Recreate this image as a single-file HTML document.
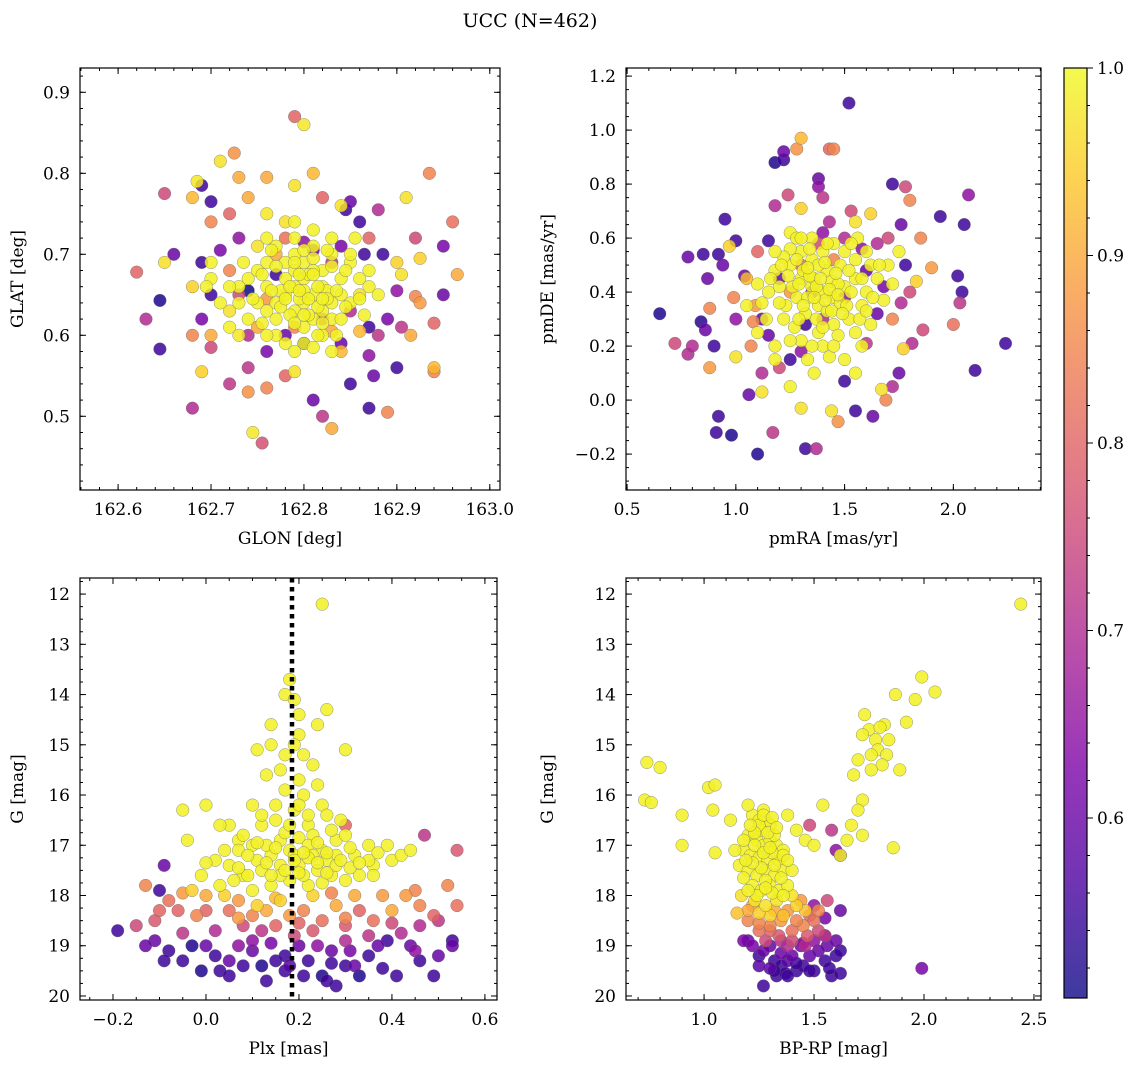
<!DOCTYPE html>
<html><head><meta charset="utf-8"><style>
html,body{margin:0;padding:0;background:#fff;}
svg{display:block;font-family:"DejaVu Serif","Liberation Serif",serif;}
</style></head><body>
<svg id="fig" width="1136" height="1067" viewBox="0 0 1136 1067">
<defs>
<linearGradient id="plasma" x1="0" y1="1" x2="0" y2="0">
<stop offset="0" stop-color="#0d0887"/><stop offset="0.125" stop-color="#4c02a1"/><stop offset="0.25" stop-color="#7e03a8"/><stop offset="0.375" stop-color="#a92395"/><stop offset="0.5" stop-color="#cc4778"/><stop offset="0.625" stop-color="#e56b5d"/><stop offset="0.75" stop-color="#f89540"/><stop offset="0.875" stop-color="#fdc527"/><stop offset="1" stop-color="#f0f921"/>
</linearGradient>
</defs>
<text x="530" y="27" text-anchor="middle" font-size="19">UCC (N=462)</text>
</svg>
<script>
// ---- data ----
const p1 = [[162.62,0.678,0.8],[162.645,0.643,0.52],[162.645,0.583,0.55],[162.65,0.775,0.75],[162.65,0.69,0.97],[162.68,0.51,0.7],[162.68,0.77,0.92],[162.685,0.79,0.98],[162.69,0.785,0.55],[162.7,0.765,0.55],[162.71,0.815,0.97],[162.725,0.825,0.87],[162.68,0.66,0.95],[162.69,0.62,0.62],[162.7,0.65,0.55],[162.7,0.6,0.9],[162.72,0.54,0.72],[162.74,0.53,0.87],[162.745,0.48,0.98],[162.755,0.467,0.77],[162.76,0.535,0.85],[162.74,0.56,0.72],[162.79,0.87,0.8],[162.8,0.86,0.98],[162.81,0.8,0.92],[162.79,0.785,0.97],[162.76,0.795,0.9],[162.82,0.77,0.8],[162.81,0.52,0.6],[162.82,0.5,0.72],[162.83,0.485,0.9],[162.85,0.54,0.55],[162.87,0.51,0.55],[162.875,0.55,0.6],[162.89,0.505,0.85],[162.87,0.575,0.65],[162.9,0.56,0.55],[162.915,0.6,0.9],[162.935,0.8,0.85],[162.95,0.71,0.62],[162.96,0.74,0.82],[162.965,0.675,0.9],[162.94,0.615,0.8],[162.94,0.56,0.92],[162.94,0.555,0.85],[162.925,0.695,0.95],[162.91,0.77,0.97],[162.88,0.755,0.7],[162.87,0.72,0.8],[162.865,0.7,0.55],[162.885,0.7,0.55],[162.9,0.69,0.95],[162.905,0.675,0.97],[162.92,0.648,0.85],[162.925,0.64,0.88],[162.905,0.61,0.72],[162.89,0.62,0.62],[162.86,0.65,0.97],[162.88,0.6,0.72],[162.86,0.605,0.92],[162.85,0.63,0.7],[162.845,0.755,0.55],[162.84,0.76,0.97],[162.77,0.7,0.9],[162.73,0.72,0.65],[162.72,0.68,0.85],[162.73,0.65,0.75],[162.7,0.585,0.75],[162.69,0.555,0.95],[162.75,0.61,0.9],[162.76,0.58,0.62],[162.78,0.6,0.6],[162.8,0.59,0.52],[162.82,0.62,0.7],[162.83,0.605,0.9],[162.84,0.58,0.92],[162.79,0.555,0.97],[162.78,0.55,0.8],[162.72,0.63,0.97],[162.73,0.6,0.98],[162.76,0.75,0.98],[162.74,0.77,0.9],[162.78,0.74,0.97],[162.75,0.71,0.97],
[162.81,0.705,0.6],[162.77,0.675,0.55],[162.83,0.69,0.72],[162.79,0.61,0.85],[162.8,0.715,0.65],[162.84,0.71,0.62],[162.76,0.645,0.88],[162.84,0.59,0.6],[162.78,0.72,0.82],[162.74,0.655,0.5],
[162.66,0.7,0.6],[162.69,0.69,0.55],[162.71,0.705,0.62],[162.85,0.765,0.6],[162.86,0.74,0.55],[162.9,0.655,0.65],[162.87,0.61,0.55],[162.63,0.62,0.7],[162.68,0.6,0.85],[162.74,0.6,0.7],[162.95,0.65,0.6],[162.92,0.72,0.75],[162.72,0.75,0.8],[162.7,0.74,0.85],[162.73,0.795,0.9]];

const p1Core = [[162.78,0.65],[162.79,0.66],[162.80,0.64],[162.81,0.65],[162.82,0.66],[162.80,0.67],[162.79,0.63],[162.81,0.62],[162.83,0.64],[162.77,0.64],[162.78,0.67],[162.82,0.68],[162.80,0.69],[162.79,0.70],[162.81,0.71],[162.83,0.70],[162.84,0.67],[162.76,0.66],[162.77,0.62],[162.80,0.61],[162.82,0.63],[162.84,0.65],[162.85,0.69],[162.78,0.69],[162.76,0.69],[162.75,0.64],[162.74,0.67],[162.79,0.68],[162.81,0.68],[162.80,0.655],[162.795,0.645],[162.815,0.635],[162.785,0.625],[162.825,0.655],[162.805,0.675],[162.775,0.655],[162.83,0.62],[162.76,0.63],[162.74,0.62],[162.86,0.67],[162.77,0.71],[162.83,0.72],[162.79,0.72],[162.82,0.60],[162.80,0.59],[162.78,0.59],[162.73,0.66],[162.75,0.68],[162.84,0.62],[162.85,0.64],[162.87,0.66],[162.72,0.66],[162.70,0.67],[162.81,0.73],[162.79,0.74],[162.855,0.72],[162.76,0.72],[162.83,0.58],
[162.805,0.645],[162.785,0.66],[162.815,0.66],[162.795,0.675],[162.825,0.645],[162.775,0.635],[162.805,0.625],[162.835,0.655],[162.765,0.655],[162.79,0.615],[162.82,0.615],[162.81,0.695],[162.79,0.69],[162.77,0.685],[162.83,0.685],[162.845,0.68],[162.755,0.675],[162.745,0.645],[162.755,0.615],[162.77,0.6],[162.815,0.6],[162.835,0.6],[162.845,0.635],[162.86,0.645],[162.865,0.625],[162.73,0.64],[162.735,0.69],[162.765,0.705],[162.8,0.705],[162.825,0.705],[162.85,0.7],[162.81,0.585],[162.79,0.58],[162.76,0.6],[162.72,0.61],[162.71,0.64],[162.695,0.66],[162.7,0.69],[162.87,0.68],[162.88,0.65],[162.8,0.625],[162.795,0.655],[162.82,0.645],[162.78,0.645],[162.81,0.675]];

const p2 = [[0.65,0.32,0.52],[0.72,0.21,0.75],[0.78,0.17,0.7],[0.8,0.2,0.7],[0.78,0.53,0.6],[0.84,0.29,0.53],[0.85,0.54,0.55],[0.86,0.26,0.6],[0.87,0.45,0.6],[0.88,0.12,0.88],[0.88,0.34,0.85],[0.9,0.2,0.55],[0.92,0.54,0.55],[0.94,0.5,0.6],[0.92,-0.06,0.55],[0.91,-0.12,0.55],[0.95,0.67,0.55],[0.97,0.57,0.95],[0.98,-0.13,0.52],[0.99,0.38,0.85],[1.0,0.59,0.55],[1.0,0.16,0.97],[1.04,0.46,0.6],[1.06,0.02,0.6],[1.07,0.2,0.85],[1.1,-0.2,0.52],[1.12,0.03,0.97],[1.12,0.1,0.7],[1.15,0.59,0.55],[1.17,-0.12,0.72],[1.18,0.72,0.7],[1.18,0.88,0.52],[1.22,0.92,0.6],[1.22,0.89,0.55],[1.24,0.76,0.75],[1.28,0.93,0.87],[1.3,0.97,0.92],[1.3,0.71,0.95],[1.3,-0.03,0.97],[1.32,-0.18,0.55],[1.37,-0.18,0.7],[1.38,0.82,0.6],[1.38,0.79,0.65],[1.4,0.75,0.72],[1.43,0.93,0.8],[1.45,0.93,0.85],[1.43,0.66,0.7],[1.44,-0.04,0.97],[1.47,-0.08,0.87],[1.5,0.07,0.55],[1.52,1.1,0.55],[1.53,0.7,0.75],[1.55,0.66,0.97],[1.55,-0.04,0.55],[1.58,0.56,0.65],[1.62,0.69,0.95],[1.63,-0.06,0.6],[1.65,0.58,0.7],[1.67,0.04,0.97],[1.69,0.0,0.85],[1.7,0.6,0.75],[1.72,0.8,0.55],[1.72,0.05,0.7],[1.76,0.65,0.6],[1.76,0.36,0.7],[1.77,0.19,0.95],[1.78,0.5,0.55],[1.78,0.79,0.75],[1.8,0.74,0.85],[1.81,0.21,0.7],[1.83,0.44,0.95],[1.86,0.26,0.75],[1.9,0.49,0.88],[1.94,0.68,0.55],[2.0,0.28,0.82],[2.02,0.46,0.55],[2.03,0.36,0.72],[2.04,0.4,0.55],[2.05,0.65,0.55],[2.07,0.76,0.65],[2.1,0.11,0.55],[2.24,0.21,0.55],[1.08,0.29,0.85],[1.09,0.35,0.88],[1.05,0.45,0.92],[1.12,0.3,0.6],[1.15,0.24,0.6],[1.2,0.12,0.75],[1.25,0.15,0.55],[1.72,0.3,0.85],[1.65,0.32,0.6],[1.6,0.21,0.72],[1.68,0.42,0.62],
[1.35,0.4,0.6],[1.4,0.3,0.7],[1.3,0.5,0.8],[1.45,0.52,0.85],[1.25,0.4,0.88],[1.5,0.38,0.65],[1.38,0.58,0.75],[1.32,0.28,0.55],
[1.2,0.45,0.6],[1.6,0.48,0.6],[1.4,0.62,0.65],[1.3,0.18,0.65],[1.5,0.6,0.7],[1.0,0.3,0.65],[1.75,0.1,0.6],[1.8,0.4,0.75],[1.1,0.55,0.8],[1.85,0.6,0.85]];

const p2Core = [[1.25,0.5],[1.3,0.45],[1.35,0.42],[1.4,0.4],[1.45,0.38],[1.5,0.42],[1.38,0.35],[1.32,0.32],[1.28,0.38],[1.42,0.48],[1.48,0.5],[1.35,0.52],[1.3,0.55],[1.4,0.55],[1.55,0.45],[1.6,0.4],[1.58,0.35],[1.52,0.3],[1.45,0.28],[1.38,0.25],[1.3,0.22],[1.22,0.3],[1.2,0.42],[1.18,0.48],[1.25,0.56],[1.45,0.58],[1.5,0.55],[1.62,0.5],[1.65,0.45],[1.68,0.37],[1.42,0.33],[1.36,0.45],[1.44,0.44],[1.26,0.42],[1.33,0.38],[1.48,0.36],[1.55,0.25],[1.4,0.2],[1.33,0.15],[1.18,0.2],[1.12,0.36],[1.15,0.4],[1.7,0.5],[1.6,0.55],[1.35,0.6],[1.25,0.62],[1.5,0.15],[1.58,0.2],[1.43,0.16],[1.27,0.27],[1.62,0.28],[1.23,0.35],[1.38,0.5],[1.52,0.48],[1.47,0.43],[1.31,0.48],[1.22,0.53],[1.1,0.43],[1.72,0.43],[1.75,0.55],[1.18,0.55],[1.05,0.35],[1.28,0.6],[1.56,0.6],
[1.37,0.42],[1.41,0.37],[1.34,0.46],[1.43,0.41],[1.39,0.45],[1.36,0.38],[1.46,0.47],[1.29,0.43],[1.33,0.49],[1.41,0.51],[1.47,0.39],[1.53,0.4],[1.51,0.35],[1.44,0.33],[1.37,0.3],[1.31,0.35],[1.24,0.46],[1.28,0.52],[1.34,0.56],[1.42,0.58],[1.55,0.52],[1.58,0.45],[1.63,0.38],[1.57,0.3],[1.47,0.24],[1.35,0.2],[1.25,0.22],[1.2,0.36],[1.16,0.45],[1.29,0.3],[1.4,0.27],[1.49,0.32],[1.6,0.33],[1.66,0.5],[1.53,0.58],[1.3,0.6],[1.21,0.5],[1.14,0.3],[1.45,0.2],[1.36,0.1],[1.25,0.05],[1.55,0.1],[1.1,0.25],[1.18,0.15]];

const p3 = [[-0.13,17.8,0.85],[-0.05,17.95,0.88],[-0.08,18.1,0.82],[-0.02,18.4,0.85],[0.0,18.0,0.9],[0.05,18.3,0.82],[0.07,18.1,0.88],[0.1,18.4,0.85],[0.13,18.3,0.9],[0.15,18.6,0.8],[0.18,18.4,0.88],[0.21,18.3,0.85],[0.25,18.5,0.82],[0.28,18.2,0.9],[0.3,18.6,0.78],[0.33,18.3,0.8],[0.36,18.5,0.82],[0.4,18.3,0.9],[0.43,18.0,0.88],[0.46,18.2,0.85],[0.49,18.4,0.8],[0.52,17.8,0.85],[0.54,18.2,0.82],[0.3,16.6,0.8],[0.47,16.8,0.72],[0.54,17.1,0.78],[0.45,17.9,0.85],[0.38,18.0,0.88],[0.27,17.95,0.85],[0.08,18.6,0.75],[-0.11,18.5,0.78],[-0.15,18.6,0.75],[0.02,18.7,0.7],[0.19,18.8,0.75],[0.35,18.8,0.72],[0.46,18.6,0.7],[0.5,18.5,0.72],[0.23,18.7,0.78],[0.12,18.7,0.72],[-0.06,18.3,0.8],
[-0.19,18.7,0.55],[-0.1,17.9,0.55],[-0.09,17.4,0.6],[-0.11,18.9,0.6],[-0.08,19.1,0.55],[-0.05,19.3,0.55],[-0.03,19.0,0.52],[-0.01,19.5,0.52],[0.02,19.2,0.55],[0.03,19.5,0.55],[0.05,19.3,0.6],[0.08,19.4,0.55],[0.1,19.1,0.6],[0.12,19.4,0.52],[0.15,19.3,0.55],[0.17,19.5,0.55],[0.2,19.0,0.6],[0.22,19.3,0.55],[0.25,19.6,0.52],[0.27,19.1,0.6],[0.28,19.8,0.55],[0.3,19.4,0.55],[0.32,19.4,0.6],[0.33,19.6,0.52],[0.35,19.2,0.55],[0.37,19.0,0.6],[0.39,18.9,0.55],[0.41,19.6,0.55],[0.44,19.0,0.6],[0.46,19.3,0.55],[0.49,19.6,0.55],[0.53,18.9,0.55],[0.53,19.0,0.6],[0.45,19.1,0.65],[0.0,19.0,0.6],[0.07,19.0,0.65],[0.14,18.95,0.62],[0.24,19.0,0.65],[0.31,19.1,0.62],[-0.13,19.0,0.6],[0.18,19.4,0.58],[0.26,19.7,0.55],
[0.0,18.3,0.8],[0.2,18.55,0.8],[0.4,18.55,0.75],[0.1,18.9,0.65],[0.3,18.9,0.7],[-0.05,18.75,0.72],[0.42,18.75,0.7],[0.17,19.2,0.55],[0.27,19.35,0.55],[0.05,19.6,0.55],[0.38,19.45,0.55],[0.5,19.2,0.6],[-0.09,19.3,0.55],[0.21,19.6,0.55],[0.13,19.7,0.55],[0.3,18.45,0.85],[0.15,18.05,0.92],[0.32,18.0,0.9],[0.07,18.45,0.88],[-0.1,18.3,0.8],
[0.04,18.0,0.95],[-0.03,17.9,0.95],[0.16,18.1,0.95],[0.23,18.0,0.95],[0.11,18.2,0.95]];

const p3Core = [[0.25,12.2],[0.18,13.7],[0.17,14.0],[0.19,14.1],[0.2,14.4],[0.26,14.3],[0.24,14.6],[0.14,14.6],[0.2,14.8],[0.11,15.1],[0.14,15.0],[0.17,15.2],[0.21,15.2],[0.3,15.1],[0.23,15.4],[0.13,15.6],[0.2,15.7],[0.17,15.9],[0.21,16.0],[0.25,16.2],[-0.05,16.3],[0.0,16.2],[0.1,16.2],[0.19,16.3],[0.26,16.4],[0.29,16.5],[0.05,16.6],[0.12,16.6],[0.15,16.5],[0.22,16.6],[0.23,16.8],[0.03,16.6],[-0.04,16.9],[0.07,16.9],[0.1,17.0],[0.16,16.9],[0.2,16.85],[0.28,16.9],[0.35,17.0],[0.39,17.0],[0.4,17.3],[0.36,17.4],[0.32,17.2],[0.28,17.2],[0.25,17.1],[0.22,17.0],[0.18,17.1],[0.14,17.2],[0.11,17.3],[0.07,17.1],[0.05,17.4],[0.02,17.3],[0.0,17.35],[-0.01,17.6],[0.03,17.8],[0.08,17.6],[0.12,17.5],[0.16,17.4],[0.2,17.4],[0.24,17.5],[0.27,17.6],[0.3,17.7],[0.33,17.6],[0.36,17.6],[0.18,17.7],[0.14,17.8],[0.1,17.9],[0.06,17.7],[0.22,17.8],[0.26,17.3],[0.19,17.2],[0.13,17.0],[0.09,17.6],[0.16,17.6],[0.23,17.2],[0.28,17.4],[0.35,17.3],[0.42,17.2],[0.21,17.6],
[0.15,17.05],[0.19,17.3],[0.22,17.25],[0.24,17.35],[0.26,17.15],[0.29,17.3],[0.31,17.45],[0.17,17.5],[0.13,17.35],[0.09,17.2],[0.11,16.95],[0.17,16.75],[0.24,16.95],[0.31,17.05],[0.33,17.35],[0.21,17.15],[0.18,16.6],[0.15,16.2],[0.16,15.5],[0.19,15.0],[0.22,16.4],[0.12,16.4],[0.08,16.8],[0.04,17.1],[0.2,17.55],[0.25,17.75],[0.14,17.6],[0.07,17.45],[0.37,17.15],[0.44,17.1],[0.3,16.8],[0.27,16.7],[0.2,16.2],[0.24,15.8],[0.26,17.55]];

const p4 = [[1.2,18.9,0.6],[1.25,19.2,0.55],[1.3,19.0,0.6],[1.32,19.3,0.55],[1.35,19.4,0.55],[1.38,19.3,0.58],[1.4,19.2,0.6],[1.42,19.5,0.55],[1.45,19.4,0.55],[1.48,19.2,0.6],[1.5,19.5,0.55],[1.55,19.3,0.55],[1.58,19.6,0.55],[1.6,19.2,0.55],[1.62,19.1,0.55],[1.62,19.55,0.55],[1.27,19.8,0.55],[1.33,19.6,0.55],[1.3,19.45,0.58],[1.37,19.55,0.55],[1.99,19.45,0.62],[1.55,18.8,0.62],[1.5,18.9,0.65],[1.56,19.0,0.6],[1.6,18.9,0.6],[1.55,18.45,0.62],[1.62,18.3,0.6],[1.5,18.2,0.65],[1.18,18.9,0.62],[1.44,19.0,0.62],[1.6,17.1,0.65],[1.62,17.2,0.6],
[1.2,18.5,0.85],[1.25,18.7,0.82],[1.3,18.6,0.85],[1.35,18.5,0.88],[1.4,18.7,0.82],[1.45,18.6,0.85],[1.5,18.5,0.82],[1.52,18.3,0.85],[1.28,18.9,0.75],[1.34,18.8,0.78],[1.4,18.9,0.75],[1.47,18.8,0.78],[1.55,18.8,0.72],[1.22,18.2,0.9],[1.32,18.3,0.9],[1.44,18.1,0.88],[1.48,16.6,0.75],[1.58,16.7,0.72],[1.38,19.0,0.7],[1.46,19.0,0.7],
[1.3,18.7,0.8],[1.35,18.9,0.7],[1.42,18.5,0.85],[1.27,19.1,0.6],[1.35,19.15,0.6],[1.42,19.35,0.55],[1.48,19.5,0.55],[1.32,19.5,0.55],[1.25,19.4,0.58],[1.45,18.95,0.65],[1.52,19.1,0.6],[1.38,19.6,0.55],[1.57,19.45,0.55],[1.48,18.4,0.8],[1.52,18.7,0.75],[1.38,18.3,0.88],[1.25,18.55,0.85],[1.2,18.3,0.9],[1.56,18.1,0.75],[1.22,19.0,0.62],
[1.17,18.0,0.97],[1.23,18.1,0.97],[1.28,18.2,0.97],[1.33,18.1,0.97],[1.4,18.0,0.97],[1.42,18.2,0.95],[1.46,18.3,0.93],[1.3,18.4,0.95],[1.25,18.35,0.95],[1.15,18.35,0.93],[1.36,18.4,0.93]];

const p4Core = [[0.74,15.35],[0.73,16.1],[0.76,16.15],[0.8,15.45],[0.9,16.4],[0.9,17.0],[1.02,15.85],[1.05,15.8],[1.04,16.3],[1.05,17.15],[2.44,12.2],[1.99,13.65],[2.05,13.95],[1.87,14.0],[1.96,14.1],[1.92,14.55],[1.73,14.4],[1.75,14.7],[1.82,14.6],[1.8,14.65],[1.72,14.8],[1.78,14.9],[1.84,14.9],[1.79,15.1],[1.76,15.2],[1.83,15.2],[1.81,15.4],[1.76,15.5],[1.89,15.5],[1.7,15.3],[1.68,15.6],[1.72,16.1],[1.7,16.3],[1.67,16.6],[1.72,16.8],[1.65,16.9],[1.62,17.2],[1.54,16.2],[1.22,16.4],[1.25,16.5],[1.28,16.5],[1.3,16.6],[1.2,16.8],[1.24,16.9],[1.27,17.0],[1.3,16.9],[1.33,17.0],[1.18,17.1],[1.21,17.2],[1.25,17.25],[1.29,17.3],[1.34,17.3],[1.16,17.4],[1.2,17.5],[1.24,17.6],[1.28,17.5],[1.32,17.6],[1.36,17.5],[1.22,17.8],[1.26,17.9],[1.3,17.8],[1.34,17.9],[1.38,17.8],[1.14,17.1],[1.12,16.5],[1.26,16.7],[1.32,16.8],[1.36,17.1],[1.23,17.0],[1.31,17.15],[1.18,17.65],[1.4,17.5],[1.38,16.4],[1.42,16.7],[1.46,16.9],[1.5,17.0],[1.2,16.2],[1.27,16.3],[1.86,17.05],
[1.25,16.6],[1.29,16.75],[1.23,16.75],[1.27,17.15],[1.32,17.4],[1.26,17.45],[1.22,17.35],[1.3,17.05],[1.35,17.65],[1.28,17.7],[1.24,18.0],[1.31,17.95],[1.27,16.4],[1.31,16.45],[1.21,16.6],[1.19,17.3],[1.36,17.2],[1.33,16.65],[1.28,17.85],[1.2,17.9],[1.36,18.0],[1.38,17.3],[1.18,16.9]];

const p1XTicks=[162.6,162.7,162.8,162.9,163.0], p1YTicks=[0.5,0.6,0.7,0.8,0.9];
const p2XTicks=[0.5,1.0,1.5,2.0], p2YTicks=[-0.2,0.0,0.2,0.4,0.6,0.8,1.0,1.2];
const p3XTicks=[-0.2,0.0,0.2,0.4,0.6], gTicks=[12,13,14,15,16,17,18,19,20];
const p4XTicks=[1.0,1.5,2.0,2.5];
const cbTicks=[0.6,0.7,0.8,0.9,1.0];
const plxLine=0.185;
const coreProb=0.99;
const vmin=0.504, vmax=1.0;

const NS="http://www.w3.org/2000/svg";
const svg=document.getElementById('fig');
function el(tag,attrs,parent){const e=document.createElementNS(NS,tag);for(const k in attrs)e.setAttribute(k,attrs[k]);(parent||svg).appendChild(e);return e;}

const stops=[[13,8,135],[76,2,161],[126,3,168],[169,35,149],[204,71,120],[229,107,93],[248,149,64],[253,197,39],[240,249,33]];
function plasma(v){let t=Math.max(0,Math.min(1,(v-vmin)/(vmax-vmin)))*8;let i=Math.min(7,Math.floor(t)),f=t-i;const a=stops[i],b=stops[i+1];return `rgb(${Math.round(a[0]+(b[0]-a[0])*f)},${Math.round(a[1]+(b[1]-a[1])*f)},${Math.round(a[2]+(b[2]-a[2])*f)})`;}

function fmt(v,d){return (v<0?'\u2212':'')+Math.abs(v).toFixed(d);}
function withCore(a,core){return a.concat(core.map(d=>[d[0],d[1],coreProb]));}

function panel(name,box,xr,yr,data,xticks,yticks,xminor,yminor,xd,yd,xlabel,ylabel,ylabX,invertY){
  const [x0,y0,x1,y1]=box;
  const sx=v=>x0+(v-xr[0])/(xr[1]-xr[0])*(x1-x0);
  const sy=invertY? v=>y0+(v-yr[0])/(yr[1]-yr[0])*(y1-y0) : v=>y1-(v-yr[0])/(yr[1]-yr[0])*(y1-y0);
  const g=el('g',{});
  
  
  const clipId=name+'-clip';
  const cp=el('clipPath',{id:clipId},g);el('rect',{x:x0,y:y0,width:x1-x0,height:y1-y0},cp);
  const pts=el('g',{'clip-path':`url(#${clipId})`},g);
  
  
  const sorted=data.slice().sort((a,b)=>a[2]-b[2]);
  for(const d of sorted){
    const c=el('circle',{cx:sx(d[0]),cy:sy(d[1]),r:6.3,fill:plasma(d[2]),'fill-opacity':0.85,stroke:'#666','stroke-width':0.5,'stroke-opacity':0.7},pts);
    
    
  }
  g._sx=sx;g._sy=sy;
  el('rect',{x:x0,y:y0,width:x1-x0,height:y1-y0,fill:'none',stroke:'#000','stroke-width':1.2},g);
  const tk=el('g',{stroke:'#000','stroke-width':1},g);
  const step=(xticks[1]-xticks[0])/xminor;
  for(let k=-40;k<200;k++){const v=xticks[0]+k*step;if(v<xr[0]||v>xr[1])continue;const X=sx(v);el('line',{x1:X,y1:y1,x2:X,y2:y1-3},tk);el('line',{x1:X,y1:y0,x2:X,y2:y0+3},tk);}
  const ystep=(yticks[1]-yticks[0])/yminor;
  for(let k=-40;k<200;k++){const v=yticks[0]+k*ystep;if(v<yr[0]||v>yr[1])continue;const Y=sy(v);el('line',{x1:x0,y1:Y,x2:x0+3,y2:Y},tk);el('line',{x1:x1,y1:Y,x2:x1-3,y2:Y},tk);}
  for(const v of xticks){const X=sx(v);el('line',{x1:X,y1:y1,x2:X,y2:y1-6},tk);el('line',{x1:X,y1:y0,x2:X,y2:y0+6},tk);
    const t=el('text',{x:X,y:y1+25,'text-anchor':'middle','font-size':17},g);t.textContent=fmt(v,xd);
    
    }
  for(const v of yticks){const Y=sy(v);el('line',{x1:x0,y1:Y,x2:x0+6,y2:Y},tk);el('line',{x1:x1,y1:Y,x2:x1-6,y2:Y},tk);
    const t=el('text',{x:x0-10,y:Y+6,'text-anchor':'end','font-size':17},g);t.textContent=fmt(v,yd);
    
    }
  const xl=el('text',{x:(x0+x1)/2,y:y1+54,'text-anchor':'middle','font-size':17},g);xl.textContent=xlabel;
  
  
  const yl=el('text',{x:0,y:0,'text-anchor':'middle','font-size':17,transform:`translate(${ylabX},${(y0+y1)/2}) rotate(-90)`},g);yl.textContent=ylabel;
  
  
  return g;
}

panel('glon-glat-panel',[80,68,500,490],[162.559,163.011],[0.409,0.930],withCore(p1,p1Core),p1XTicks,p1YTicks,5,5,1,1,'GLON [deg]','GLAT [deg]',23,false);
panel('pm-panel',[626,68,1041,490],[0.495,2.403],[-0.333,1.230],withCore(p2,p2Core),p2XTicks,p2YTicks,5,4,1,1,'pmRA [mas/yr]','pmDE [mas/yr]',553,false);
const g3=panel('plx-g-panel',[80,578,497,1000],[-0.271,0.626],[11.68,20.08],withCore(p3,p3Core),p3XTicks,gTicks,4,4,1,0,'Plx [mas]','G [mag]',23,true);
const ln=el('line',{x1:g3._sx(plxLine),y1:578,x2:g3._sx(plxLine),y2:1000,stroke:'#000','stroke-width':4.5,'stroke-dasharray':'4.5 4.5'},g3);


panel('cmd-panel',[626,578,1041,1000],[0.645,2.532],[11.68,20.08],withCore(p4,p4Core),p4XTicks,gTicks,5,4,1,0,'BP-RP [mag]','G [mag]',553,true);

// colorbar
const cb=el('g',{});


const cx0=1064,cx1=1087,cy0=68,cy1=998;
el('rect',{x:cx0,y:cy0,width:cx1-cx0,height:cy1-cy0,fill:'url(#plasma)','fill-opacity':0.8},cb);
el('rect',{x:cx0,y:cy0,width:cx1-cx0,height:cy1-cy0,fill:'none',stroke:'#000','stroke-width':1.2},cb);
const cy=v=>cy1-(v-vmin)/(vmax-vmin)*(cy1-cy0);
for(let k=26;k<=50;k++){const v=k*0.02;if(v<vmin)continue;el('line',{x1:cx1,y1:cy(v),x2:cx1+3,y2:cy(v),stroke:'#000'},cb);}
for(const v of cbTicks){el('line',{x1:cx1,y1:cy(v),x2:cx1+6,y2:cy(v),stroke:'#000'},cb);
  const t=el('text',{x:cx1+10,y:cy(v)+6,'font-size':17},cb);t.textContent=v.toFixed(1);
  
  }
</script>
</body></html>
